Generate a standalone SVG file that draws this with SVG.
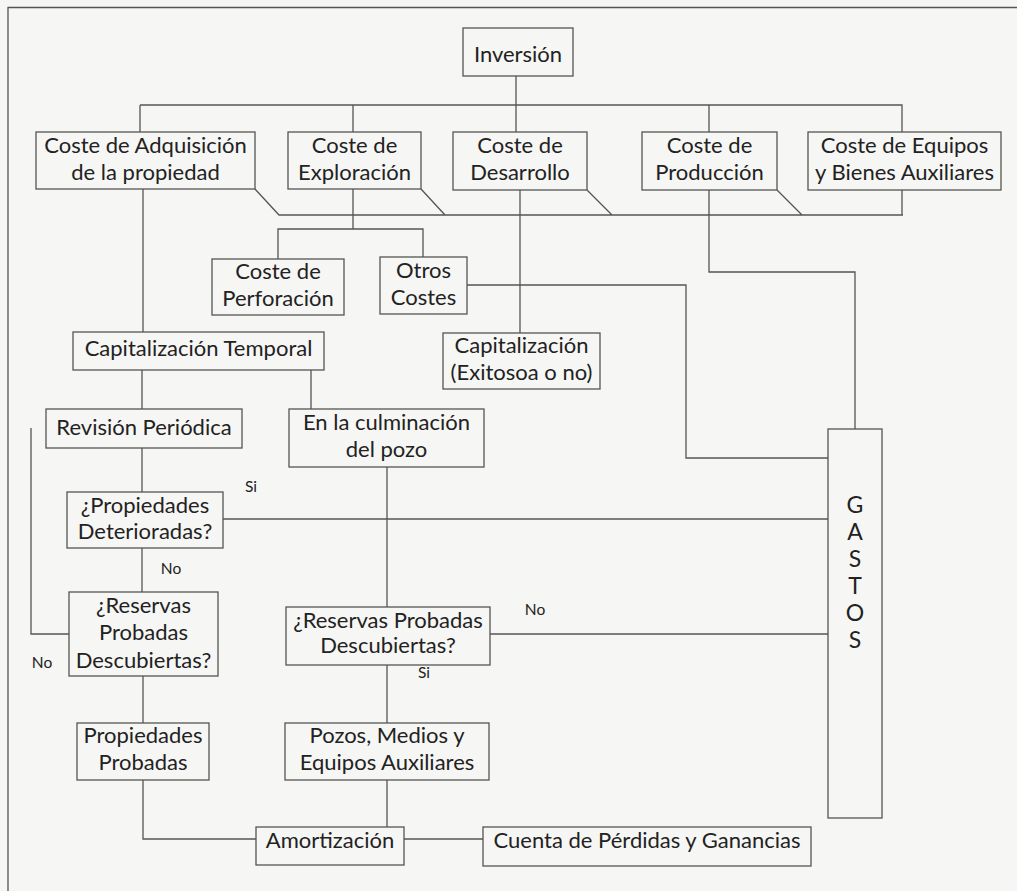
<svg xmlns="http://www.w3.org/2000/svg" width="1017" height="891" viewBox="0 0 1017 891">
<style>
.bg{fill:#f6f6f4}
.box{fill:none;stroke:#555;stroke-width:1.3}
.ln{fill:none;stroke:#555;stroke-width:1.3}
text{font-family:"Lato","Open Sans","DejaVu Sans",sans-serif;fill:#222}
.t{font-size:22px;text-anchor:middle}
.s{font-size:15.5px;text-anchor:middle}
.g{font-size:23px;text-anchor:middle}
</style>
<rect class="bg" x="0" y="0" width="1017" height="891"/>
<g id="frame"><path class="ln" d="M1017 7.5 H8 V891"/></g>
<g id="connectors">
<path class="ln" d="M516 76 V132 M140 105 H902 V132 M140 105 V132 M353 105 V132 M709 105 V132"/>
<path class="ln" d="M255 189 L279 215 H903 M421 189 L445 215 M587 190 L612 215 M777 190 L802 215 M902 190 V215"/>
<path class="ln" d="M353 189 V229 M278 259 V229 H423 V257"/>
<path class="ln" d="M467 285 H686 V458 H828"/>
<path class="ln" d="M709 190 V272 H855 V429"/>
<path class="ln" d="M520 190 V333"/>
<path class="ln" d="M143 189 V332"/>
<path class="ln" d="M142 370 V409 M311 370 V409"/>
<path class="ln" d="M142 448 V492"/>
<path class="ln" d="M223 519 H828"/>
<path class="ln" d="M142 548 V592"/>
<path class="ln" d="M69 634 H31 V428"/>
<path class="ln" d="M387 467 V607"/>
<path class="ln" d="M490 634 H828"/>
<path class="ln" d="M387 665 V723"/>
<path class="ln" d="M143 676 V723"/>
<path class="ln" d="M143 780 V839 H256 M387 780 V827 M404 839 H483"/>
</g>
<g id="labels">
<text class="s" x="251" y="492">Si</text>
<text class="s" x="171" y="574">No</text>
<text class="s" x="42" y="668">No</text>
<text class="s" x="535" y="615">No</text>
<text class="s" x="424" y="678">Si</text>
</g>
<g id="inversion"><rect class="box" x="463" y="28" width="110" height="48"/><text class="t" x="518" y="62">Inversión</text></g>
<g id="adquisicion"><rect class="box" x="36" y="132" width="219" height="57"/><text class="t" x="145.5" y="153">Coste de Adquisición</text><text class="t" x="145.5" y="180">de la propiedad</text></g>
<g id="exploracion"><rect class="box" x="288" y="132" width="133" height="57"/><text class="t" x="354.5" y="153">Coste de</text><text class="t" x="354.5" y="180">Exploración</text></g>
<g id="desarrollo"><rect class="box" x="453" y="132" width="134" height="58"/><text class="t" x="520" y="153">Coste de</text><text class="t" x="520" y="180">Desarrollo</text></g>
<g id="produccion"><rect class="box" x="642" y="132" width="135" height="58"/><text class="t" x="709.5" y="153">Coste de</text><text class="t" x="709.5" y="180">Producción</text></g>
<g id="equipos"><rect class="box" x="808" y="132" width="193" height="58"/><text class="t" x="904.5" y="153">Coste de Equipos</text><text class="t" x="904.5" y="180">y Bienes Auxiliares</text></g>
<g id="perforacion"><rect class="box" x="212" y="259" width="132" height="56"/><text class="t" x="278" y="279">Coste de</text><text class="t" x="278" y="306">Perforación</text></g>
<g id="otros"><rect class="box" x="380" y="257" width="87" height="57"/><text class="t" x="423.5" y="278">Otros</text><text class="t" x="423.5" y="305">Costes</text></g>
<g id="cap-temporal"><rect class="box" x="73" y="332" width="251" height="38"/><text class="t" x="198.5" y="356">Capitalización Temporal</text></g>
<g id="cap-exitosa"><rect class="box" x="443" y="333" width="157" height="56"/><text class="t" x="521.5" y="353">Capitalización</text><text class="t" x="521.5" y="380">(Exitosoa o no)</text></g>
<g id="revision"><rect class="box" x="46" y="409" width="196" height="39"/><text class="t" x="144" y="435">Revisión Periódica</text></g>
<g id="culminacion"><rect class="box" x="289" y="409" width="195" height="58"/><text class="t" x="386.5" y="430">En la culminación</text><text class="t" x="386.5" y="457">del pozo</text></g>
<g id="deterioradas"><rect class="box" x="67" y="492" width="156" height="56"/><text class="t" x="145" y="513">¿Propiedades</text><text class="t" x="145" y="539">Deterioradas?</text></g>
<g id="reservas-izq"><rect class="box" x="69" y="592" width="149" height="84"/><text class="t" x="143.5" y="613">¿Reservas</text><text class="t" x="143.5" y="640">Probadas</text><text class="t" x="143.5" y="668">Descubiertas?</text></g>
<g id="reservas-der"><rect class="box" x="286" y="607" width="204" height="58"/><text class="t" x="388" y="628">¿Reservas Probadas</text><text class="t" x="388" y="653">Descubiertas?</text></g>
<g id="gastos"><rect class="box" x="828" y="429" width="54" height="389"/>
<text class="g" x="855" y="513">G</text><text class="g" x="855" y="540">A</text><text class="g" x="855" y="567">S</text><text class="g" x="855" y="594">T</text><text class="g" x="855" y="621">O</text><text class="g" x="855" y="648">S</text></g>
<g id="propiedades-probadas"><rect class="box" x="77" y="723" width="132" height="57"/><text class="t" x="143" y="743">Propiedades</text><text class="t" x="143" y="770">Probadas</text></g>
<g id="pozos"><rect class="box" x="285" y="723" width="204" height="57"/><text class="t" x="387" y="743">Pozos, Medios y</text><text class="t" x="387" y="770">Equipos Auxiliares</text></g>
<g id="amortizacion"><rect class="box" x="256" y="827" width="148" height="38"/><text class="t" x="330" y="848">Amortización</text></g>
<g id="cuenta"><rect class="box" x="483" y="827" width="328" height="39"/><text class="t" x="647" y="848">Cuenta de Pérdidas y Ganancias</text></g>
</svg>
